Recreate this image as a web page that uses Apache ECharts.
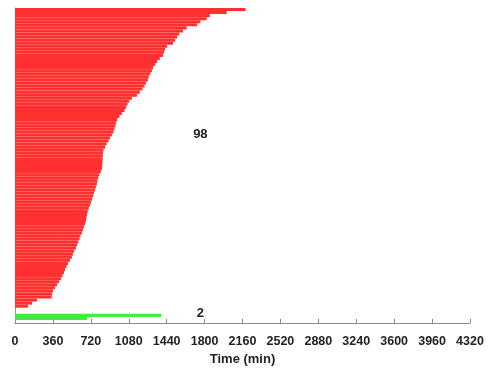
<!DOCTYPE html>
<html>
<head>
<meta charset="utf-8">
<script src="https://cdn.jsdelivr.net/npm/echarts@6/dist/echarts.min.js"></script>
<style>
  html, body { margin: 0; padding: 0; background: #fff; }
  #chart { width: 489px; height: 373px; }
</style>
</head>
<body>
<div id="chart"></div>
<script>
// Red group: duration of each run (min), listed top to bottom
const redTimes = [
  2190, 2010, 1850, 1820, 1760, 1730, 1630, 1595, 1560, 1540,
  1520, 1500, 1445, 1425, 1415, 1405, 1375, 1350, 1330, 1310,
  1300, 1285, 1270, 1262, 1245, 1230, 1210, 1185, 1158, 1110,
  1085, 1068, 1055, 1040, 1015, 992, 970, 960, 954, 945,
  935, 920, 902, 888, 870, 855, 840, 836, 834, 832,
  830, 828, 825, 815, 800, 790, 783, 778, 768, 760,
  750, 742, 732, 722, 712, 700, 690, 684, 679, 674,
  665, 655, 646, 636, 622, 612, 601, 590, 579, 562,
  550, 540, 522, 503, 489, 475, 465, 451, 437, 418,
  399, 380, 361, 351, 348, 209, 161, 123
];
// Green group, top to bottom
const greenTimes = [1390, 684];
const xTickLabels = [0, 360, 720, 1080, 1440, 1800, 2160, 2520, 2880, 3240, 3600, 3960, 4320];
const labelX = 1760;

// category slots from bottom: one empty, green bars, two empty, red bars
const categories = [];
const redData = [];
const greenData = [];
function addSlot(name, r, g) {
  categories.push(name);
  redData.push(r);
  greenData.push(g);
}
addSlot('E0', '-', '-');
for (let i = greenTimes.length - 1; i >= 0; i--) addSlot('G' + i, '-', greenTimes[i]);
addSlot('E1', '-', '-');
addSlot('E2', '-', '-');
for (let i = redTimes.length - 1; i >= 0; i--) addSlot('R' + i, redTimes[i], '-');

const chart = echarts.init(document.getElementById('chart'));

const option = {
  animation: false,
  grid: { left: 15, right: 19, top: 8, bottom: 50 },
  xAxis: {
    type: 'value',
    min: xTickLabels[0],
    max: xTickLabels[xTickLabels.length - 1],
    interval: xTickLabels[1] - xTickLabels[0],
    name: 'Time (min)',
    nameLocation: 'middle',
    nameGap: 30,
    nameTextStyle: { fontFamily: 'Liberation Sans', fontWeight: 'bold', fontSize: 13, color: '#222' },
    axisLine: { show: true, lineStyle: { color: '#888', width: 1 } },
    axisTick: { show: true, inside: true, length: 4, lineStyle: { color: '#888' } },
    axisLabel: {
      margin: 12,
      formatter: v => String(v),
      fontFamily: 'Liberation Sans', fontWeight: 'bold', fontSize: 12.5, color: '#222'
    },
    splitLine: { show: false }
  },
  yAxis: {
    type: 'category',
    data: categories,
    axisLine: { show: true, lineStyle: { color: '#999', width: 1 } },
    axisTick: { show: false },
    axisLabel: { show: false },
    splitLine: { show: false }
  },
  series: [
    {
      name: 'Red',
      type: 'bar',
      data: redData,
      barGap: '-100%',
      barCategoryGap: '0%',
      itemStyle: { color: '#ff3030' },
      markPoint: {
        symbol: 'circle',
        symbolSize: 0,
        label: {
          show: true,
          formatter: String(redTimes.length),
          fontFamily: 'Liberation Sans', fontWeight: 'bold', fontSize: 13, color: '#222'
        },
        data: [{ coord: [labelX, 'R' + Math.round(redTimes.length * 0.42)] }]
      }
    },
    {
      name: 'Green',
      type: 'bar',
      data: greenData,
      barGap: '-100%',
      barCategoryGap: '0%',
      itemStyle: { color: '#3ef03e' },
      markPoint: {
        symbol: 'circle',
        symbolSize: 0,
        label: {
          show: true,
          formatter: String(greenTimes.length),
          offset: [0, -2],
          fontFamily: 'Liberation Sans', fontWeight: 'bold', fontSize: 13, color: '#222'
        },
        data: [{ coord: [labelX, 'G0'] }]
      }
    }
  ]
};

chart.setOption(option);
</script>
</body>
</html>
